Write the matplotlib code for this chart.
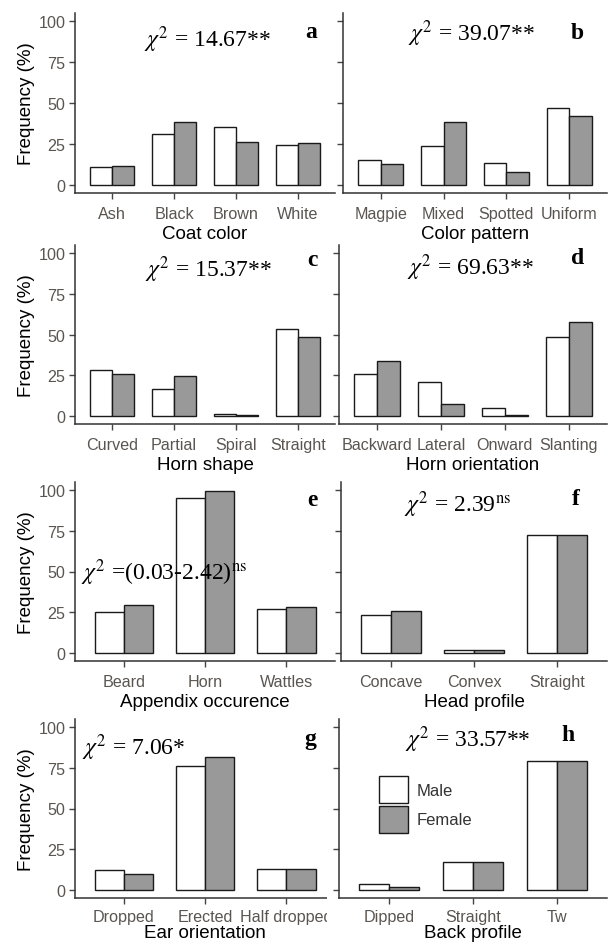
import numpy as np
import matplotlib
matplotlib.use("Agg")
import matplotlib.pyplot as plt
from matplotlib.patches import Patch, Rectangle

plt.rcParams['font.family'] = ['Liberation Sans', 'DejaVu Sans']
plt.rcParams['mathtext.fontset'] = 'stix'

# data (frequency %, male / female)
coat = ['Ash', 'Black', 'Brown', 'White']
coat_m = [10.8, 31.1, 35.2, 24.6]
coat_f = [11.4, 38.2, 26.0, 25.4]

pattern = ['Magpie', 'Mixed', 'Spotted', 'Uniform']
pattern_m = [15.2, 23.7, 13.4, 46.8]
pattern_f = [12.8, 38.3, 7.9, 41.9]

hshape = ['Curved', 'Partial', 'Spiral', 'Straight']
hshape_m = [28.3, 16.4, 1.0, 53.5]
hshape_f = [25.6, 24.4, 0.4, 48.4]

horient = ['Backward', 'Lateral', 'Onward', 'Slanting']
horient_m = [25.6, 20.7, 5.1, 48.3]
horient_f = [33.9, 7.4, 0.4, 57.9]

append = ['Beard', 'Horn', 'Wattles']
append_m = [25.2, 95.1, 27.0]
append_f = [29.5, 99.6, 28.3]

head = ['Concave', 'Convex', 'Straight']
head_m = [23.0, 1.6, 72.2]
head_f = [26.0, 1.6, 72.2]

ear = ['Dropped', 'Erected', 'Half dropped']
ear_m = [12.0, 76.3, 12.7]
ear_f = [9.6, 81.8, 12.7]

back = ['Dipped', 'Straight', 'Tw']
back_m = [3.7, 17.2, 79.3]
back_f = [2.0, 17.2, 79.3]

W, H = 608, 945
fig = plt.figure(figsize=(W / 100, H / 100), dpi=100)

TXT = '#5a5550'
GREY = '#999999'
EDGE = '#1a1a1a'


def make_ax(x0, x1, y0, y1, z=0):
    ax = fig.add_axes([x0 / W, 1 - y1 / H, (x1 - x0) / W, (y1 - y0) / H])
    ax.set_zorder(z)
    return ax


def panel(ax, cats, m, f, xlabel, chi, chipos, letter, letpos, left,
          chi_ha='center', tpad=5.5, lpad=2.5):
    x = np.arange(1, len(cats) + 1)
    w = 0.36
    ax.bar(x - w / 2, m, w, color='white', edgecolor=EDGE, linewidth=1.0)
    ax.bar(x + w / 2, f, w, color=GREY, edgecolor=EDGE, linewidth=1.0)
    ax.set_xlim(0.4, len(cats) + 0.6)
    ax.set_ylim(-5, 105)
    ax.set_yticks([0, 25, 50, 75, 100])
    ax.set_xticks(x)
    ax.set_xticklabels(cats)
    for s in ['top', 'right']:
        ax.spines[s].set_visible(False)
    for s in ['left', 'bottom']:
        ax.spines[s].set_color('#333333')
        ax.spines[s].set_linewidth(1.1)
    ax.tick_params(axis='both', length=4, width=1, color='#444444',
                   labelcolor=TXT, labelsize=11.6)
    ax.tick_params(axis='x', pad=tpad)
    ax.tick_params(axis='y', pad=3)
    ax.set_xlabel(xlabel, fontsize=13.5, labelpad=lpad, color='black')
    if left:
        ax.set_ylabel('Frequency (%)', fontsize=13.5, labelpad=2, color='black')
    else:
        ax.set_yticklabels([])
    ax.text(chipos[0], chipos[1], chi, transform=ax.transAxes, ha=chi_ha,
            va='center', fontsize=17, family='Liberation Serif')
    ax.text(letpos[0], letpos[1], letter, transform=ax.transAxes, ha='center',
            va='center', fontsize=17, family='Liberation Serif', weight='bold')


ax_a = make_ax(75, 335, 14, 194)
panel(ax_a, coat, coat_m, coat_f, 'Coat color', r'$\chi^2$ = 14.67**',
      (0.508, 0.856), 'a', (0.908, 0.9), True)
ax_b = make_ax(343, 607, 14, 194, 1)
panel(ax_b, pattern, pattern_m, pattern_f, 'Color pattern', r'$\chi^2$ = 39.07**',
      (0.485, 0.889), 'b', (0.886, 0.894), False)

ax_c = make_ax(75, 335, 246, 425)
panel(ax_c, hshape, hshape_m, hshape_f, 'Horn shape', r'$\chi^2$ = 15.37**',
      (0.515, 0.866), 'c', (0.915, 0.92), True)
ax_d = make_ax(339, 607, 246, 425, 1)
panel(ax_d, horient, horient_m, horient_f, 'Horn orientation', r'$\chi^2$ = 69.63**',
      (0.49, 0.877), 'd', (0.89, 0.93), False)

ax_e = make_ax(75, 335, 483, 662)
panel(ax_e, append, append_m, append_f, 'Appendix occurence',
      r'$\chi^2$ =(0.03-2.42)$^{\mathrm{ns}}$',
      (0.023, 0.497), 'e', (0.915, 0.905), True, chi_ha='left')
ax_f = make_ax(341, 607, 483, 662, 1)
panel(ax_f, head, head_m, head_f, 'Head profile', r'$\chi^2$ = 2.39$^{\mathrm{ns}}$',
      (0.437, 0.877), 'f', (0.883, 0.91), False)

# bottom row: labels pulled up a little so they stay inside the figure
ax_g = make_ax(75, 335, 720, 899)
panel(ax_g, ear, ear_m, ear_f, 'Ear orientation', r'$\chi^2$ = 7.06*',
      (0.224, 0.844), 'g', (0.904, 0.89), True, tpad=4, lpad=0)
ax_h = make_ax(339, 607, 720, 899, 1)
panel(ax_h, back, back_m, back_f, 'Back profile', r'$\chi^2$ = 33.57**',
      (0.48, 0.89), 'h', (0.855, 0.915), False, tpad=4, lpad=0)

# right-hand panel covers the overflowing left label in the last row
cover = Rectangle((327 / W, 0), 1 - 327 / W, (H - 705) / H, transform=fig.transFigure,
                  facecolor='white', edgecolor='none', zorder=0.5)
fig.patches.append(cover)

handles = [Patch(facecolor='white', edgecolor=EDGE, linewidth=1.0),
           Patch(facecolor=GREY, edgecolor=EDGE, linewidth=1.0)]
ax_h.legend(handles, ['Male', 'Female'], loc='upper left', bbox_to_anchor=(0.149, 0.682),
            frameon=False, fontsize=12, handlelength=1.74, handleheight=2.1,
            labelspacing=0.18, handletextpad=0.55, borderaxespad=0, borderpad=0,
            labelcolor='#333333')

fig.savefig('out.png', dpi=100, facecolor='white')
